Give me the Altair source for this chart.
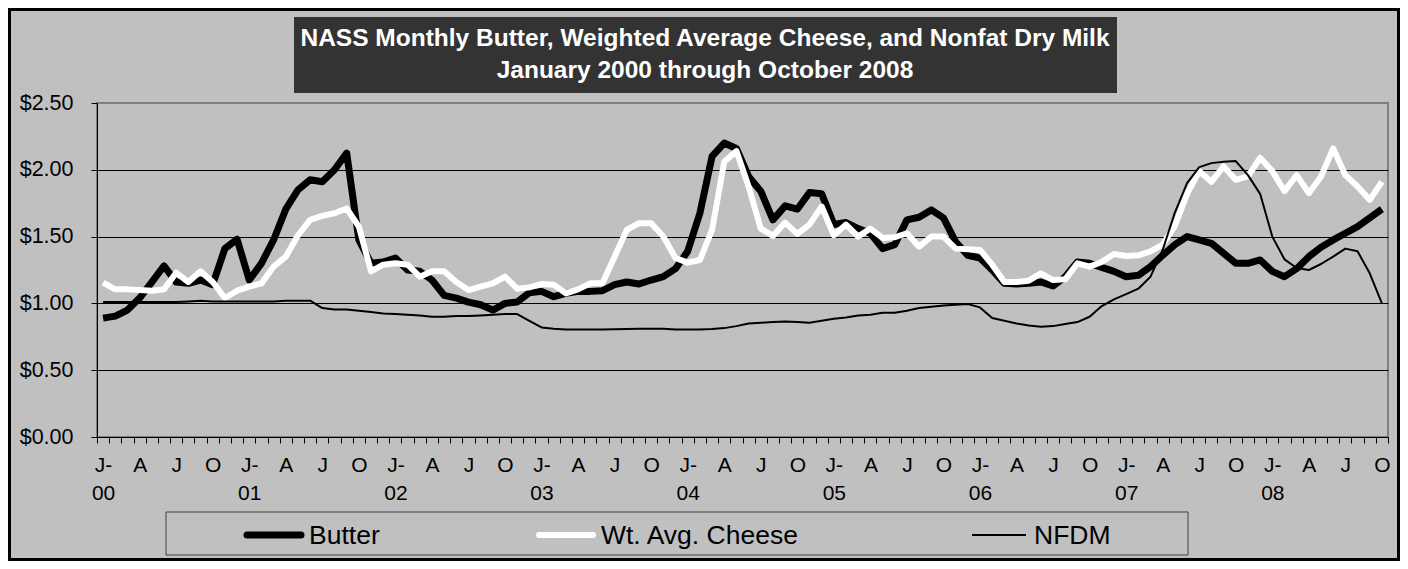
import json
import altair as alt
import pandas as pd

# ---------------- data ----------------
YEARS = ["00", "01", "02", "03", "04", "05", "06", "07", "08"]
QUARTER_LABELS = ["J-", "A", "J", "O"]  # Jan, Apr, Jul, Oct
SERIES = ["Butter", "Wt. Avg. Cheese", "NFDM"]
Y_TICKS = [0.0, 0.5, 1.0, 1.5, 2.0, 2.5]
TITLE_LINES = [
    "NASS Monthly Butter, Weighted Average Cheese, and Nonfat Dry Milk",
    "January 2000 through October 2008",
]

BUTTER = [
    0.89, 0.905, 0.95, 1.04, 1.16, 1.28, 1.16, 1.15, 1.175, 1.14, 1.41, 1.48,
    1.175, 1.30, 1.475, 1.705, 1.85, 1.925, 1.91, 2.00, 2.125, 1.475, 1.30, 1.31,
    1.34, 1.25, 1.24, 1.175, 1.06, 1.04, 1.01, 0.99, 0.95, 1.00, 1.01, 1.08,
    1.09, 1.05, 1.075, 1.09, 1.09, 1.095, 1.14, 1.16, 1.145, 1.175, 1.20, 1.26,
    1.39, 1.675, 2.10, 2.20, 2.16, 1.95, 1.84, 1.625, 1.73, 1.705, 1.83, 1.82,
    1.59, 1.605, 1.56, 1.525, 1.41, 1.44, 1.625, 1.645, 1.70, 1.64, 1.46, 1.36,
    1.34, 1.25, 1.15, 1.145, 1.15, 1.16, 1.13, 1.20, 1.31, 1.30, 1.27, 1.24,
    1.20, 1.21, 1.275, 1.36, 1.44, 1.50, 1.475, 1.45, 1.375, 1.30, 1.30, 1.325,
    1.24, 1.20, 1.26, 1.35, 1.42, 1.475, 1.525, 1.575, 1.64, 1.705,
]
CHEESE = [
    1.155, 1.105, 1.105, 1.10, 1.095, 1.105, 1.23, 1.16, 1.24, 1.16, 1.04, 1.095,
    1.125, 1.15, 1.275, 1.35, 1.51, 1.625, 1.655, 1.675, 1.71, 1.575, 1.24, 1.29,
    1.30, 1.29, 1.20, 1.24, 1.24, 1.16, 1.10, 1.125, 1.15, 1.20, 1.11, 1.12,
    1.145, 1.14, 1.075, 1.105, 1.15, 1.15, 1.35, 1.55, 1.60, 1.60, 1.50, 1.34,
    1.305, 1.325, 1.55, 2.06, 2.14, 1.875, 1.56, 1.505, 1.605, 1.52, 1.59, 1.725,
    1.51, 1.59, 1.50, 1.56, 1.49, 1.495, 1.525, 1.425, 1.50, 1.50, 1.41, 1.405,
    1.40, 1.29, 1.16, 1.16, 1.17, 1.225, 1.175, 1.18, 1.30, 1.275, 1.31, 1.37,
    1.355, 1.36, 1.39, 1.44, 1.58, 1.82, 1.99, 1.91, 2.025, 1.925, 1.95, 2.09,
    1.99, 1.84, 1.96, 1.825, 1.95, 2.16, 1.96, 1.875, 1.775, 1.91,
]
NFDM = [
    1.01, 1.01, 1.01, 1.01, 1.01, 1.01, 1.01, 1.015, 1.02, 1.015, 1.015, 1.015,
    1.015, 1.015, 1.015, 1.02, 1.02, 1.02, 0.965, 0.955, 0.955, 0.945, 0.935, 0.925,
    0.92, 0.915, 0.91, 0.90, 0.90, 0.905, 0.905, 0.91, 0.915, 0.92, 0.92, 0.87,
    0.82, 0.81, 0.805, 0.805, 0.805, 0.805, 0.807, 0.808, 0.81, 0.81, 0.81, 0.805,
    0.805, 0.805, 0.808, 0.815, 0.83, 0.85, 0.855, 0.86, 0.865, 0.86, 0.855, 0.87,
    0.885, 0.895, 0.91, 0.915, 0.93, 0.93, 0.945, 0.965, 0.975, 0.985, 0.99, 0.995,
    0.97, 0.89, 0.87, 0.85, 0.835, 0.825, 0.83, 0.845, 0.86, 0.90, 0.98, 1.03,
    1.07, 1.11, 1.20, 1.40, 1.68, 1.90, 2.02, 2.05, 2.06, 2.065, 1.96, 1.82,
    1.50, 1.33, 1.265, 1.25, 1.295, 1.35, 1.41, 1.39, 1.225, 1.00,
]

# ---------------- layout / style ----------------
FONT = "Liberation Sans"
BG = "#C0C0C0"
PLOT_W, PLOT_H = 1291, 334
PAD = {"left": 89, "top": 95, "right": 12, "bottom": 124}
STYLE = {  # colour, stroke width
    "Butter": ("#000000", 7),
    "Wt. Avg. Cheese": ("#FFFFFF", 6),
    "NFDM": ("#000000", 2),
}
LEGEND_SYMBOL_X = {"Butter": 148, "Wt. Avg. Cheese": 440, "NFDM": 873}
LEGEND_SYMBOL_LEN = 58
LEGEND_Y = 432

n = len(BUTTER)
labels = []
for i in range(n):
    m = i % 12
    if m == 0:
        labels.append([QUARTER_LABELS[0], YEARS[i // 12]])
    elif m % 3 == 0:
        labels.append(QUARTER_LABELS[m // 3])
    else:
        labels.append("")

rows = []
for name, vals in zip(SERIES, [BUTTER, CHEESE, NFDM]):
    for i, v in enumerate(vals):
        rows.append({"month": i, "series": name, "price": v})
df = pd.DataFrame(rows)

tick_vals = [i - 0.5 for i in range(n + 1)] + [i for i in range(0, n, 3)]

x_enc = alt.X(
    "month:Q",
    scale=alt.Scale(domain=[-0.5, n - 0.5], nice=False, zero=False),
    axis=alt.Axis(
        values=tick_vals,
        labelExpr=json.dumps(labels) + "[datum.value] || ''",
        labelOverlap=False,
        labelFlush=False,
        labelFont=FONT,
        labelFontSize=21,
        labelColor="#000000",
        labelLineHeight=28,
        labelPadding=11,
        labelBaseline="top",
        tickSize=6,
        tickColor="#000000",
        tickOpacity={"condition": {"test": "datum.value % 1 != 0", "value": 1}, "value": 0},
        domainColor="#000000",
        domainWidth=1,
        grid=False,
        title=None,
    ),
)
y_enc = alt.Y(
    "price:Q",
    scale=alt.Scale(domain=[0, 2.5], nice=False),
    axis=alt.Axis(
        values=Y_TICKS,
        format="$.2f",
        labelFont=FONT,
        labelFontSize=21.5,
        labelColor="#000000",
        labelPadding=18,
        tickSize=6,
        tickColor="#000000",
        domainColor="#000000",
        domainWidth=1,
        grid=True,
        gridColor={"condition": {"test": "datum.value == 2.5", "value": "#808080"}, "value": "#000000"},
        gridWidth=1,
        title=None,
    ),
)

layers = []
for name in SERIES:
    col, w = STYLE[name]
    layers.append(
        alt.Chart(df[df.series == name])
        .mark_line(color=col, strokeWidth=w, strokeJoin="round")
        .encode(x=x_enc, y=y_enc)
    )

one = pd.DataFrame({"k": [0]})

# outer frame
frame = alt.Chart(one).mark_rect(filled=False, stroke="#000000", strokeWidth=3).encode(
    x=alt.value(-PAD["left"] + 1.5), x2=alt.value(PLOT_W + PAD["right"] - 1.5),
    y=alt.value(-PAD["top"] + 1.5), y2=alt.value(PLOT_H + PAD["bottom"] - 1.5),
)

# title box
title_box = alt.Chart(one).mark_rect(color="#333333").encode(
    x=alt.value(197), x2=alt.value(1020), y=alt.value(-86), y2=alt.value(-10)
)
title_texts = [
    alt.Chart(one).mark_text(
        text=t, font=FONT, fontSize=24.5, fontWeight="bold", color="#FFFFFF",
        align="center", baseline="middle",
    ).encode(x=alt.value(608), y=alt.value(yy))
    for t, yy in zip(TITLE_LINES, [-64.5, -32.5])
]

# legend
legend_box = alt.Chart(one).mark_rect(filled=False, stroke="#404040", strokeWidth=1).encode(
    x=alt.value(69), x2=alt.value(1091), y=alt.value(409), y2=alt.value(452)
)
legend_parts = []
for name in SERIES:
    col, w = STYLE[name]
    x0 = LEGEND_SYMBOL_X[name]
    legend_parts.append(
        alt.Chart(one).mark_rule(color=col, strokeWidth=w, strokeCap="round" if w > 3 else "butt").encode(
            x=alt.value(x0 + 2), x2=alt.value(x0 + LEGEND_SYMBOL_LEN - 2), y=alt.value(LEGEND_Y)
        )
    )
    legend_parts.append(
        alt.Chart(one).mark_text(
            text=name, font=FONT, fontSize=26.5, color="#000000", align="left", baseline="middle"
        ).encode(x=alt.value(x0 + LEGEND_SYMBOL_LEN + 6), y=alt.value(LEGEND_Y + 1))
    )

chart = (
    alt.layer(*layers, title_box, *title_texts, legend_box, *legend_parts, frame)
    .properties(width=PLOT_W, height=PLOT_H, autosize="none", padding=PAD)
    .configure(background=BG)
    .configure_view(stroke="#808080", strokeWidth=2)
)

chart.save("out.html", embed_options={"renderer": "svg", "actions": False})
